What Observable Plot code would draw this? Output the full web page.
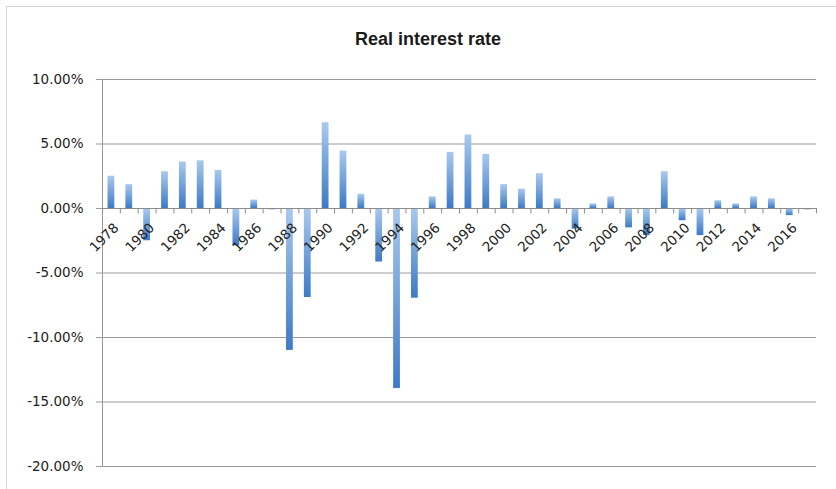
<!DOCTYPE html>
<html><head><meta charset="utf-8">
<script src="https://cdn.jsdelivr.net/npm/d3@7"></script>
<script src="https://cdn.jsdelivr.net/npm/@observablehq/plot@0.6"></script>
<style>
body{margin:0;background:#fff;}
#wrap{position:relative;width:836px;height:489px;overflow:hidden;}
#border{position:absolute;left:6px;top:6px;width:850px;height:500px;border:1px solid #d4d4d4;}
#title{position:absolute;left:6px;width:844px;top:29px;text-align:center;font:bold 18px "Liberation Sans",sans-serif;color:#1a1a1a;}
#wrap svg{position:absolute;left:0;top:0;}
</style></head>
<body><div id="wrap"><div id="border"></div><div id="title"></div></div>
<script>
const titleText = "Real interest rate";
const years = [1978,1979,1980,1981,1982,1983,1984,1985,1986,1987,1988,1989,1990,1991,1992,1993,1994,1995,1996,1997,
               1998,1999,2000,2001,2002,2003,2004,2005,2006,2007,2008,2009,2010,2011,2012,2013,2014,2015,2016,2017];
const rates = [2.5,1.85,-2.5,2.85,3.6,3.7,2.95,-2.9,0.65,-0.1,-11.0,-6.9,6.65,4.45,1.1,-4.15,-13.95,-6.95,0.9,4.35,
               5.7,4.2,1.85,1.5,2.7,0.75,-1.6,0.35,0.9,-1.5,-2.1,2.85,-0.95,-2.1,0.6,0.35,0.9,0.75,-0.55,-0.1];
const labelYears = [1978,1980,1982,1984,1986,1988,1990,1992,1994,1996,1998,2000,2002,2004,2006,2008,2010,2012,2014,2016];
const yTicks = [-20,-15,-10,-5,0,5,10];

const data = years.map((y, i) => ({year: y, rate: rates[i]}));

const W = 836, H = 489, ML = 102, MR = 20, MT = 79, MB = 23;
const half = (W - ML - MR) / years.length / 2;

document.getElementById("title").textContent = titleText;

const chart = Plot.plot({
  width: W, height: H,
  marginLeft: ML, marginRight: MR, marginTop: MT, marginBottom: MB,
  style: {fontFamily: "DejaVu Sans, sans-serif", fontSize: "13.5px", color: "#222", background: "transparent"},
  x: {type: "band", domain: years, paddingInner: 0.62, paddingOuter: 0.31, axis: null, label: null},
  y: {domain: [-20, 10], label: null},
  marks: [
    Plot.gridY(yTicks, {stroke: "#9a9a9a", strokeOpacity: 1}),
    Plot.axisY({ticks: yTicks, tickFormat: d => d.toFixed(2) + "%", tickSize: 6, tickPadding: 13, stroke: "#9a9a9a", fill: "#222", label: null}),
    Plot.ruleX([years[0]], {x: d => d, y1: -20, y2: 10, dx: -half, stroke: "#9a9a9a"}),
    Plot.barY(data, {x: "year", y: "rate", fill: "url(#barGrad)"}),
    Plot.ruleY([0], {stroke: "#8c8c8c"}),
    Plot.ruleX(years, {x: d => d, y1: 0, y2: -0.42, dx: -half, stroke: "#8c8c8c"}),
    Plot.ruleX([years[years.length - 1]], {x: d => d, y1: 0, y2: -0.42, dx: half, stroke: "#8c8c8c"}),
    Plot.text(labelYears, {x: d => d, y: 0, text: d => String(d), rotate: -45, textAnchor: "end", dx: 5, dy: 17, fill: "#222"})
  ]
});

const defs = d3.select(chart).insert("defs", ":first-child");
const grad = defs.append("linearGradient").attr("id", "barGrad").attr("x1", 0).attr("y1", 0).attr("x2", 0).attr("y2", 1);
grad.append("stop").attr("offset", "0%").attr("stop-color", "#a9c9ee");
grad.append("stop").attr("offset", "100%").attr("stop-color", "#3d7ac6");

document.getElementById("wrap").appendChild(chart);
</script>
</body></html>
